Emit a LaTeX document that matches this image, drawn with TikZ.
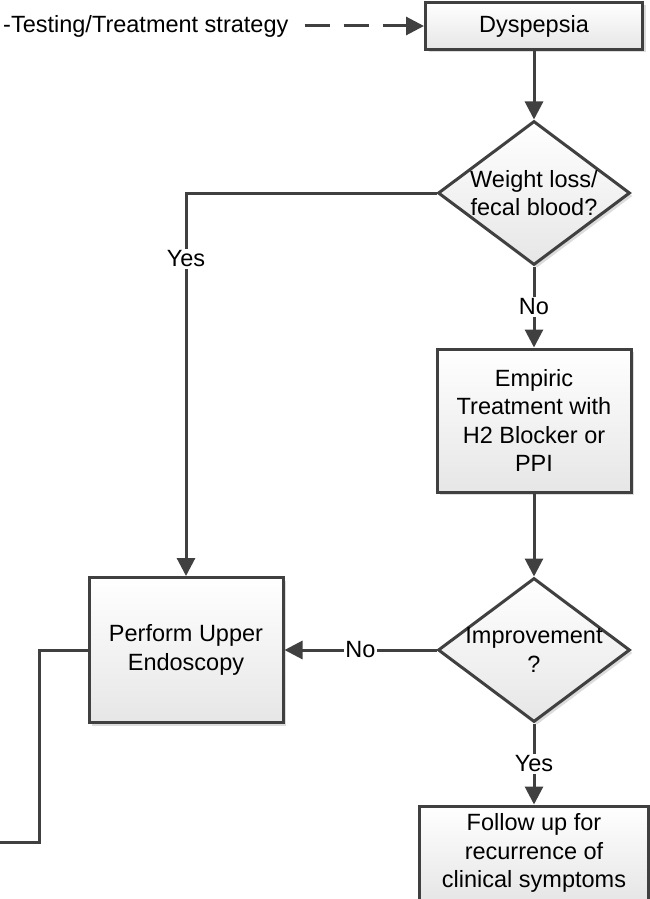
\documentclass[tikz,border=0pt]{standalone}
\usepackage{fontspec}
\setmainfont{Liberation Sans}
\usetikzlibrary{arrows.meta,shapes.geometric,shadows}
\definecolor{linegray}{HTML}{404040}
\definecolor{boxgray}{HTML}{E6E6E6}
\definecolor{shadowgray}{HTML}{DCDCDC}
\tikzset{
	every node/.style={font=\fontsize{23.5}{28.3}\selectfont},
	flow/.style={draw=linegray, line width=3pt, top color=white, bottom color=boxgray,
		drop shadow={shadow xshift=3pt, shadow yshift=-3pt, fill=shadowgray, opacity=1},
		align=center, inner sep=0pt},
	decision/.style={flow, shape=diamond, minimum width=192pt, minimum height=144pt},
	link/.style={draw=linegray, line width=3pt},
	conn/.style={link, -{Triangle[length=18pt,width=18pt]}},
	tag/.style={fill=white, inner sep=1.5pt}
}
\begin{document}
\begin{tikzpicture}[x=1pt, y=-1pt]
			\useasboundingbox (0,0) rectangle (649,899);
			\node[anchor=west, inner sep=0pt] (strategy) at (3,26) {-Testing/Treatment strategy};
			\node[flow, minimum width=217pt, minimum height=47pt] (dysp) at (534,26) {Dyspepsia};
			\draw[conn, dash pattern=on 25pt off 14pt, shorten <=16pt] (strategy) -- (dysp);
			\node[decision, label={[align=center]center:Weight loss/\\fecal blood?}] (weight) at (534,193) {};
			\draw[conn] (dysp) -- (weight);
			\node[flow, minimum width=194pt, minimum height=143pt] (empiric) at (534,420.5) {Empiric\\Treatment with\\H2 Blocker or\\PPI};
			\draw[conn] (weight) -- (empiric) node[tag, midway] {No};
			\node[decision, label={[align=center]center:Improvement\\?}] (improve) at (534,650) {};
			\draw[conn] (empiric) -- (improve);
			\node[flow, minimum width=194pt, minimum height=145pt] (endo) at (186,650) {Perform Upper\\Endoscopy};
			\draw[conn] (weight.west) -| (endo.north) node[tag, pos=0.586] {Yes};
			\draw[conn] (improve) -- (endo) node[tag, midway] {No};
			\node[flow, minimum width=229pt, minimum height=94pt] (follow) at (534,853) {Follow up for\\recurrence of\\clinical symptoms};
			\draw[conn] (improve) -- (follow) node[tag, midway] {Yes};
			\coordinate (offpage) at (-5,842);
			\draw[link] (endo.west) -- ++(-48,0) |- (offpage);
		\end{tikzpicture}
\end{document}
